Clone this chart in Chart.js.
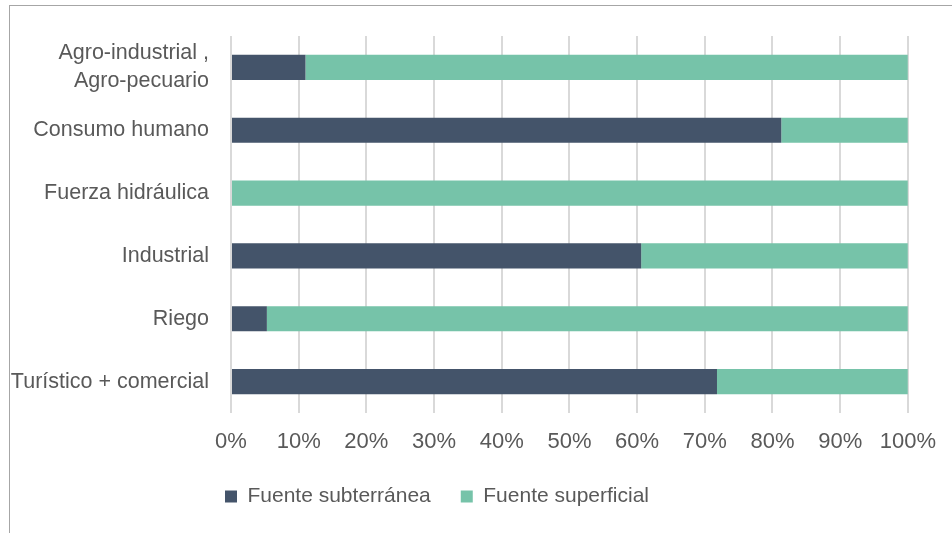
<!DOCTYPE html>
<html lang="es">
<head>
  <meta charset="UTF-8">
  <title>Fuente de agua por uso</title>
  <script src="https://cdn.jsdelivr.net/npm/chart.js@4"></script>
  <style>
    body {
      margin: 0;
      padding: 0;
      background-color: #ffffff;
    }

    .wrap {
      position: relative;
      width: 952px;
      height: 533px;
      overflow: hidden;
    }

    .frame {
      position: absolute;
      left: 9px;
      top: 5px;
      width: 1000px;
      height: 600px;
      border-top: 1.5px solid #a6a6a6;
      border-left: 1.5px solid #a6a6a6;
    }

    canvas {
      position: absolute;
      left: 0;
      top: 0;
    }
  </style>
</head>
<body>
  <div class="wrap">
    <div class="frame"></div>
    <canvas id="chart" width="952" height="533"></canvas>
  </div>

  <script>
    // datos (porcentaje de cada fuente por uso)
    const categorias = [
      ['Agro-industrial ,', 'Agro-pecuario'],
      'Consumo humano',
      'Fuerza hidráulica',
      'Industrial',
      'Riego',
      'Turístico + comercial'
    ];
    const subterranea = [11, 81.3, 0, 60.6, 5.3, 71.8];
    const superficial = [89, 18.7, 100, 39.4, 94.7, 28.2];
    const ticksX = [0, 10, 20, 30, 40, 50, 60, 70, 80, 90, 100];

    const gris = '#595959';
    const fuente = "'Liberation Sans', Arial, sans-serif";

    const ctx = document.getElementById('chart').getContext('2d');
    const chart = new Chart(ctx, {
      type: 'bar',
      data: {
        labels: categorias,
        datasets: [{
          label: 'Fuente subterránea',
          data: subterranea,
          backgroundColor: '#44546a',
          barPercentage: 0.8,
          categoryPercentage: 0.5
        }, {
          label: 'Fuente superficial',
          data: superficial,
          backgroundColor: '#76c3a9',
          barPercentage: 0.8,
          categoryPercentage: 0.5
        }]
      },
      options: {
        indexAxis: 'y',
        responsive: false,
        animation: false,
        layout: {
          padding: { left: 0, right: 44, top: 36, bottom: 16 }
        },
        scales: {
          x: {
            stacked: true,
            min: 0,
            max: 100,
            afterBuildTicks: (scale) => {
              scale.ticks = ticksX.map(v => ({ value: v }));
            },
            afterFit: (scale) => {
              scale.height = 43;
            },
            ticks: {
              callback: (v) => v + '%',
              color: gris,
              padding: 16,
              maxRotation: 0,
              font: { family: fuente, size: 22 }
            },
            grid: {
              color: '#d9d9d9',
              lineWidth: 2,
              drawTicks: false
            },
            border: { display: false }
          },
          y: {
            stacked: true,
            afterFit: (scale) => {
              scale.width = 231;
            },
            ticks: {
              color: gris,
              padding: 22,
              font: { family: fuente, size: 21.5, lineHeight: 1.3 }
            },
            grid: { display: false, drawTicks: false },
            border: { display: false }
          }
        },
        plugins: {
          legend: {
            position: 'bottom',
            labels: {
              color: gris,
              boxWidth: 12,
              boxHeight: 12,
              padding: 30,
              font: { family: fuente, size: 21 }
            }
          },
          tooltip: { enabled: false }
        }
      }
    });

    // la leyenda del original está algo corrida a la izquierda
    const dibujarLeyenda = chart.legend.draw.bind(chart.legend);
    chart.legend.draw = function (area) {
      this.ctx.save();
      this.ctx.translate(-17, 0);
      dibujarLeyenda(area);
      this.ctx.restore();
    };
    chart.draw();
  </script>
</body>
</html>
